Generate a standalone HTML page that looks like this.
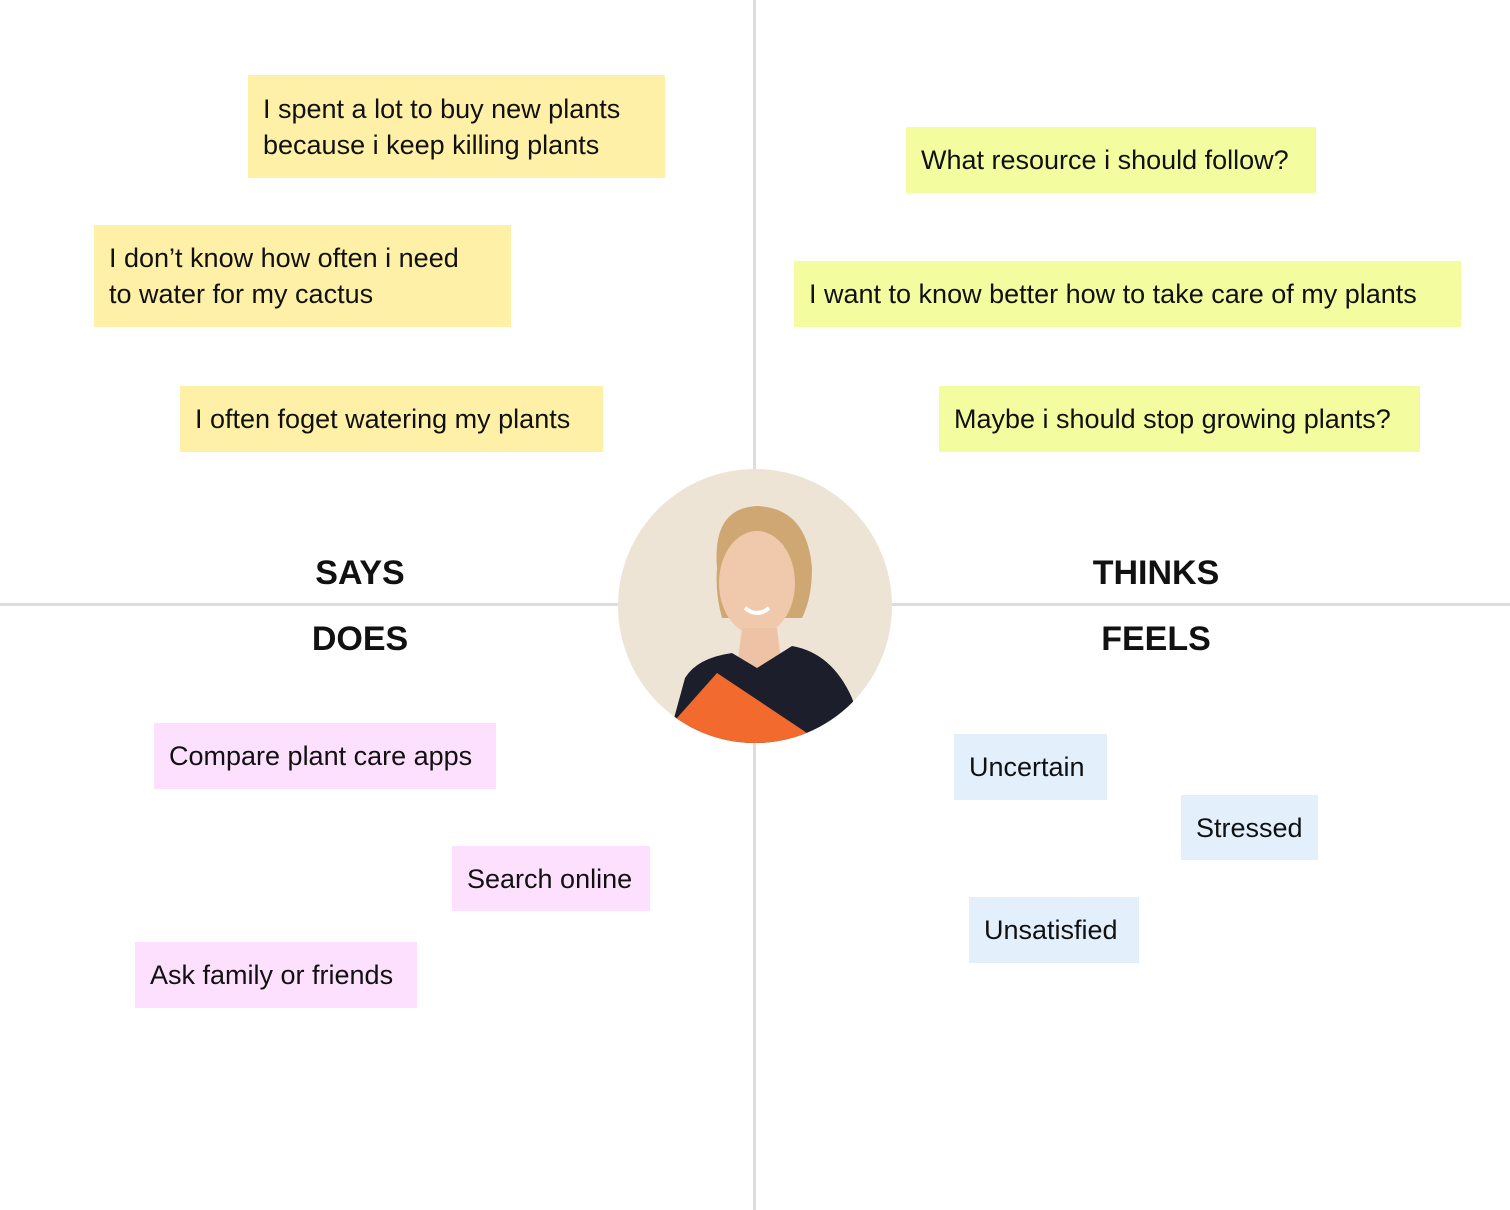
<!DOCTYPE html>
<html><head><meta charset="utf-8"><style>
html,body{margin:0;padding:0;background:#fff;}
body{width:1510px;height:1210px;position:relative;overflow:hidden;font-family:"Liberation Sans",sans-serif;}
.s{position:absolute;box-sizing:border-box;padding-left:15px;font-size:27px;color:#111;white-space:nowrap;display:flex;flex-direction:column;justify-content:center;line-height:36px;}
.y{background:#fef0a6}.l{background:#f3fda0}.p{background:#fde0fd}.b{background:#e3f0fc}
.h{position:absolute;font-weight:bold;font-size:34px;color:#111;transform:translateX(-50%);}
</style></head><body>
<div style="position:absolute;left:753px;top:0;width:3px;height:1210px;background:#dedcdc"></div>
<div style="position:absolute;left:0;top:603px;width:1510px;height:3px;background:#dedcdc"></div>

<div class="s y" style="left:248px;top:75px;width:417px;height:103px">I spent a lot to buy new plants<br>because i keep killing plants</div>
<div class="s y" style="left:94px;top:225px;width:417px;height:102px">I don’t know how often i need<br>to water for my cactus</div>
<div class="s y" style="left:180px;top:386px;width:423px;height:66px">I often foget watering my plants</div>

<div class="s l" style="left:906px;top:127px;width:410px;height:66px">What resource i should follow?</div>
<div class="s l" style="left:794px;top:261px;width:667px;height:66px">I want to know better how to take care of my plants</div>
<div class="s l" style="left:939px;top:386px;width:481px;height:66px">Maybe i should stop growing plants?</div>

<div class="s p" style="left:154px;top:723px;width:342px;height:66px">Compare plant care apps</div>
<div class="s p" style="left:452px;top:846px;width:198px;height:65px">Search online</div>
<div class="s p" style="left:135px;top:942px;width:282px;height:66px">Ask family or friends</div>

<div class="s b" style="left:954px;top:734px;width:153px;height:66px">Uncertain</div>
<div class="s b" style="left:1181px;top:795px;width:137px;height:65px">Stressed</div>
<div class="s b" style="left:969px;top:897px;width:170px;height:66px">Unsatisfied</div>

<div class="h" style="left:360px;top:554px">SAYS</div>
<div class="h" style="left:1156px;top:554px">THINKS</div>
<div class="h" style="left:360px;top:620px">DOES</div>
<div class="h" style="left:1156px;top:620px">FEELS</div>

<svg style="position:absolute;left:617px;top:468px" width="276" height="276" viewBox="0 0 276 276">
<defs><clipPath id="c"><circle cx="138" cy="138" r="137"/></clipPath></defs>
<g clip-path="url(#c)">
<rect width="276" height="276" fill="#ede4d6"/>
<path d="M100 100 Q95 40 140 38 Q190 40 195 100 Q195 130 185 150 L105 150 Q98 125 100 100Z" fill="#cfa772"/>
<ellipse cx="140" cy="115" rx="38" ry="52" fill="#f0c9ad"/>
<path d="M125 160 L160 160 L165 200 L120 200Z" fill="#eec2a4"/>
<path d="M50 276 L68 210 Q80 190 115 185 L140 200 L175 178 Q215 185 235 230 L250 276Z" fill="#1c1f2b"/>
<path d="M60 250 L100 205 L190 265 L175 290 L55 290Z" fill="#f26a2e"/>
<path d="M128 140 Q140 150 152 140" stroke="#fff" stroke-width="4" fill="none"/>
</g>
</svg>
</body></html>
